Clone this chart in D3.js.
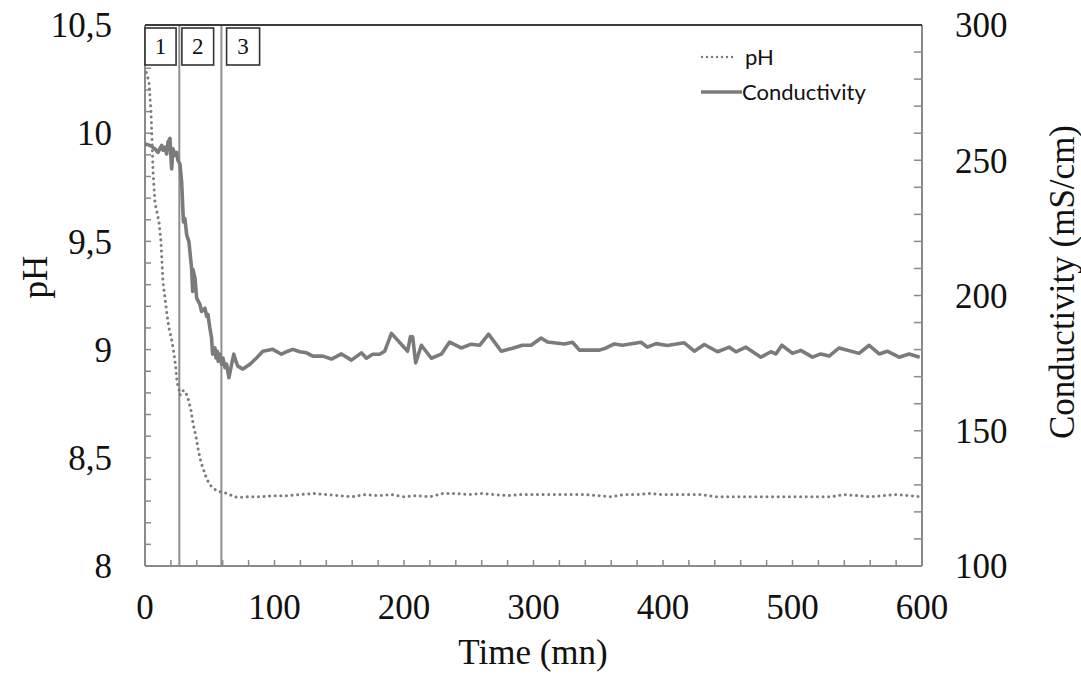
<!DOCTYPE html>
<html>
<head>
<meta charset="utf-8">
<script src="https://cdn.jsdelivr.net/npm/d3@7"></script>
<style>
  html, body { margin: 0; padding: 0; background: #fff; }
  svg { display: block; }
</style>
</head>
<body>
<svg id="chart" width="1081" height="677"></svg>
<script>
// ---------------- DATA ----------------
const phTime = [1, 3, 4.6, 5.4, 6.2, 7.7, 10.8, 12.3, 13.9, 15.4, 17, 18.5, 20.8, 22.4, 23.9, 24.7, 26.2, 27, 28.5, 30.8, 33, 35.5, 37, 39.3, 41, 43.2, 45.5, 47.8, 51, 54.8, 59.4, 64, 68.6, 73,
  80, 90, 100, 110, 120, 130, 140, 150, 160, 170, 180, 190, 200, 210, 220, 230, 240, 250, 260, 270, 280, 290, 300, 310, 320, 330, 340, 350, 360, 370, 380, 390, 400, 410, 420, 430, 440, 450, 460, 470, 480, 490, 500, 510, 520, 530, 540, 550, 560, 570, 580, 590, 600];
const phValues = [10.28, 10.24, 10.10, 9.97, 9.82, 9.68, 9.59, 9.50, 9.31, 9.24, 9.16, 9.10, 9.04, 8.98, 8.91, 8.85, 8.82, 8.79, 8.81, 8.81, 8.78, 8.72, 8.66, 8.60, 8.54, 8.48, 8.44, 8.40, 8.37, 8.35, 8.34, 8.335, 8.32, 8.317,
  8.32, 8.32, 8.325, 8.325, 8.33, 8.335, 8.33, 8.325, 8.32, 8.33, 8.325, 8.33, 8.32, 8.325, 8.32, 8.335, 8.335, 8.33, 8.335, 8.33, 8.325, 8.33, 8.33, 8.33, 8.33, 8.33, 8.33, 8.325, 8.32, 8.33, 8.33, 8.335, 8.33, 8.33, 8.33, 8.33, 8.32, 8.32, 8.32, 8.32, 8.32, 8.32, 8.32, 8.32, 8.32, 8.32, 8.33, 8.325, 8.32, 8.325, 8.33, 8.325, 8.32];

const condTime = [0, 3.9, 7.7, 10, 12.9, 13.9, 15.4, 16.7, 17.7, 19.3, 20.1, 20.6, 21.6, 23.1, 24.4, 25.4, 27, 28.3, 29.3, 29.7, 30.8, 32.2, 33.9, 34.7, 36, 36.8, 37, 38.6, 39.9, 42.4, 43.7, 46.3, 47.6, 48.6, 50.1, 51.4, 52.2, 54, 54.8, 55.8, 56.5, 57.8, 59.2, 60.2, 61.7, 63, 64.8, 66.9, 68.6, 70.2, 71.7, 75.6, 81, 86.1, 91, 98.7, 105.4, 110.3,
  114.1, 119.5, 124.7, 129.6, 137.3, 144, 151.7, 159.4, 167.1, 171, 175.8, 181.2, 185.1, 190.3, 202.8, 204.9, 206.7, 209, 213.4, 221.1, 228.8, 235.2, 244.2, 251.9, 258.4, 265.3, 275.1, 283.8, 291.5, 298.2, 305.9, 310.8, 323.9, 330.1, 335.5, 350.9,
  356.1, 362.5, 368.6, 383, 387.9, 394.6, 403.3, 416.4, 424.2, 431.9, 442.1, 451.2, 456.3, 464, 475.6, 483.3, 487.2, 491.8, 500, 506.4, 515.4, 521.9, 528.3, 536, 551.4, 559.2, 566.9, 573.2, 582.3, 590, 598.2];
const condValues = [256.0, 255.5, 254.2, 252.9, 255.5, 253.7, 254.8, 252.3, 256.6, 258.1, 250.5, 246.8, 254.2, 251.8, 252.9, 250.0, 248.6, 241.9, 230.9, 227.2, 228.4, 222.4, 219.9, 216.2, 210.0, 201.5, 209.6, 206.4, 199.0, 196.7, 194.1, 195.3, 192.3, 193.0, 188.0, 184.3, 178.3, 180.6, 176.9, 179.4, 175.7, 178.3, 174.6, 176.9, 173.3, 174.6, 169.6, 174.6, 178.3, 175.7, 173.9, 172.8, 174.6, 176.9, 179.4, 180.1, 178.3, 179.4,
  180.1, 179.2, 178.8, 177.6, 177.6, 176.5, 178.4, 176.1, 178.8, 176.8, 178.3, 178.3, 179.4, 186.0, 179.4, 184.7, 184.7, 175.1, 181.6, 176.8, 178.3, 182.8, 180.6, 182.0, 181.6, 185.7, 179.4, 180.5, 181.6, 181.6, 184.3, 182.8, 182.1, 182.7, 179.8, 179.8,
  180.6, 182.1, 181.6, 182.7, 180.9, 182.2, 181.5, 182.5, 179.4, 181.9, 179.2, 180.9, 179.2, 180.9, 177.2, 179.2, 178.4, 181.6, 178.6, 179.7, 177.2, 178.4, 177.6, 180.6, 178.6, 181.6, 178.4, 179.4, 177.2, 178.4, 177.2];

const xTicks = [0, 100, 200, 300, 400, 500, 600];
const phTicks = [8, 8.5, 9, 9.5, 10, 10.5];
const condTicks = [100, 150, 200, 250, 300];
const seriesNames = ["pH", "Conductivity"];
const phaseLines = [26.5, 59];          // minutes
const phaseLabels = ["1", "2", "3"];
const phaseBoxStart = [0, 28.5, 63];    // minutes
const phaseBoxEnd = [24, 53, 88.5];     // minutes

// ---------------- LAYOUT ----------------
const L = 145, R = 922, T = 25, B = 566;
const svg = d3.select("#chart");
const x = d3.scaleLinear().domain([0, 600]).range([L, R]);
const yPh = d3.scaleLinear().domain([8, 10.5]).range([B, T]);
const yC = d3.scaleLinear().domain([100, 300]).range([B, T]);

const axisGrey = "#8a8a8a";
const lineGrey = "#7b7b7b";
const serif = "'Liberation Serif', 'Times New Roman', serif";
const FS = 35;
const fmt = v => d3.format("")(v).replace(".", ",");

// minor ticks
const g = svg.append("g");
const phMinor = d3.range(80, 106).map(v => v / 10);
const condMinor = d3.range(100, 301, 10);
const xMinor = d3.range(0, 601, 20);

g.selectAll(".phm").data(phMinor).join("line")
  .attr("x1", L).attr("x2", L + 6)
  .attr("y1", d => yPh(d)).attr("y2", d => yPh(d))
  .attr("stroke", axisGrey).attr("stroke-width", 1.5);
g.selectAll(".cm").data(condMinor).join("line")
  .attr("x1", R - 8).attr("x2", R)
  .attr("y1", d => yC(d)).attr("y2", d => yC(d))
  .attr("stroke", axisGrey).attr("stroke-width", 1.5);
g.selectAll(".xm").data(xMinor).join("line")
  .attr("x1", d => x(d)).attr("x2", d => x(d))
  .attr("y1", B - 6).attr("y2", B)
  .attr("stroke", axisGrey).attr("stroke-width", 1.5);

// phase lines
g.selectAll(".phase").data(phaseLines).join("line")
  .attr("x1", d => x(d)).attr("x2", d => x(d))
  .attr("y1", T).attr("y2", B)
  .attr("stroke", "#8f8f8f").attr("stroke-width", 2);

// frame
g.append("line").attr("x1", L).attr("x2", L).attr("y1", T).attr("y2", B).attr("stroke", axisGrey).attr("stroke-width", 2);
g.append("line").attr("x1", R).attr("x2", R).attr("y1", T).attr("y2", B).attr("stroke", axisGrey).attr("stroke-width", 2);
g.append("line").attr("x1", L).attr("x2", R).attr("y1", B).attr("y2", B).attr("stroke", axisGrey).attr("stroke-width", 2);
g.append("line").attr("x1", L).attr("x2", R).attr("y1", T).attr("y2", T).attr("stroke", "#3a3a3a").attr("stroke-width", 2);

// series
const phData = phTime.map((t, i) => [t, phValues[i]]);
const condData = condTime.map((t, i) => [t, condValues[i]]);

svg.append("path")
  .datum(condData)
  .attr("d", d3.line().x(d => x(d[0])).y(d => yC(d[1])))
  .attr("fill", "none").attr("stroke", lineGrey).attr("stroke-width", 3.6)
  .attr("stroke-linejoin", "round");

svg.append("path")
  .datum(phData)
  .attr("d", d3.line().x(d => x(d[0])).y(d => yPh(d[1])))
  .attr("fill", "none").attr("stroke", lineGrey).attr("stroke-width", 3)
  .attr("stroke-dasharray", "0.01 5.6").attr("stroke-linecap", "round");

// phase boxes
const boxes = svg.append("g");
phaseLabels.forEach((lab, i) => {
  const x0 = x(phaseBoxStart[i]), x1 = x(phaseBoxEnd[i]);
  boxes.append("rect").attr("x", x0).attr("y", 28).attr("width", x1 - x0).attr("height", 37)
    .attr("fill", "#fff").attr("stroke", "#333").attr("stroke-width", 1.6);
  boxes.append("text").attr("x", (x0 + x1) / 2).attr("y", 54)
    .attr("text-anchor", "middle").attr("font-family", serif).attr("font-size", 23)
    .attr("fill", "#111").text(lab);
});

// tick labels
svg.selectAll(".phl").data(phTicks).join("text")
  .attr("x", 112).attr("y", d => yPh(d)).attr("dy", "0.35em")
  .attr("text-anchor", "end").attr("font-family", serif).attr("font-size", FS).attr("fill", "#111")
  .text(fmt);
svg.selectAll(".cl").data(condTicks).join("text")
  .attr("x", 955).attr("y", d => yC(d)).attr("dy", "0.35em")
  .attr("text-anchor", "start").attr("font-family", serif).attr("font-size", FS).attr("fill", "#111")
  .text(fmt);
svg.selectAll(".xl").data(xTicks).join("text")
  .attr("x", d => x(d)).attr("y", 619)
  .attr("text-anchor", "middle").attr("font-family", serif).attr("font-size", FS).attr("fill", "#111")
  .text(fmt);

// axis titles
svg.append("text").attr("x", 533).attr("y", 664).attr("text-anchor", "middle")
  .attr("font-family", serif).attr("font-size", FS).attr("fill", "#111").text("Time (mn)");
svg.append("text").attr("transform", "translate(35,277) rotate(-90)").attr("dy", "0.35em")
  .attr("text-anchor", "middle").attr("font-family", serif).attr("font-size", FS).attr("fill", "#111").text("pH");
svg.append("text").attr("transform", "translate(1062,282) rotate(-90)").attr("dy", "0.35em")
  .attr("text-anchor", "middle").attr("font-family", serif).attr("font-size", FS).attr("fill", "#111").text("Conductivity (mS/cm)");

// legend
const lg = svg.append("g");
lg.append("line").attr("x1", 702).attr("x2", 737).attr("y1", 57).attr("y2", 57)
  .attr("stroke", lineGrey).attr("stroke-width", 2.4).attr("stroke-dasharray", "0.01 5").attr("stroke-linecap", "round");
lg.append("line").attr("x1", 701).attr("x2", 742).attr("y1", 92).attr("y2", 92)
  .attr("stroke", lineGrey).attr("stroke-width", 3.4);
lg.append("text").attr("x", 745).attr("y", 65).attr("font-family", "Lato, 'Open Sans', sans-serif")
  .attr("font-size", 22).attr("fill", "#111").text(seriesNames[0]);
lg.append("text").attr("x", 742).attr("y", 100).attr("font-family", "Lato, 'Open Sans', sans-serif")
  .attr("font-size", 22).attr("fill", "#111").text(seriesNames[1]);
</script>
</body>
</html>
